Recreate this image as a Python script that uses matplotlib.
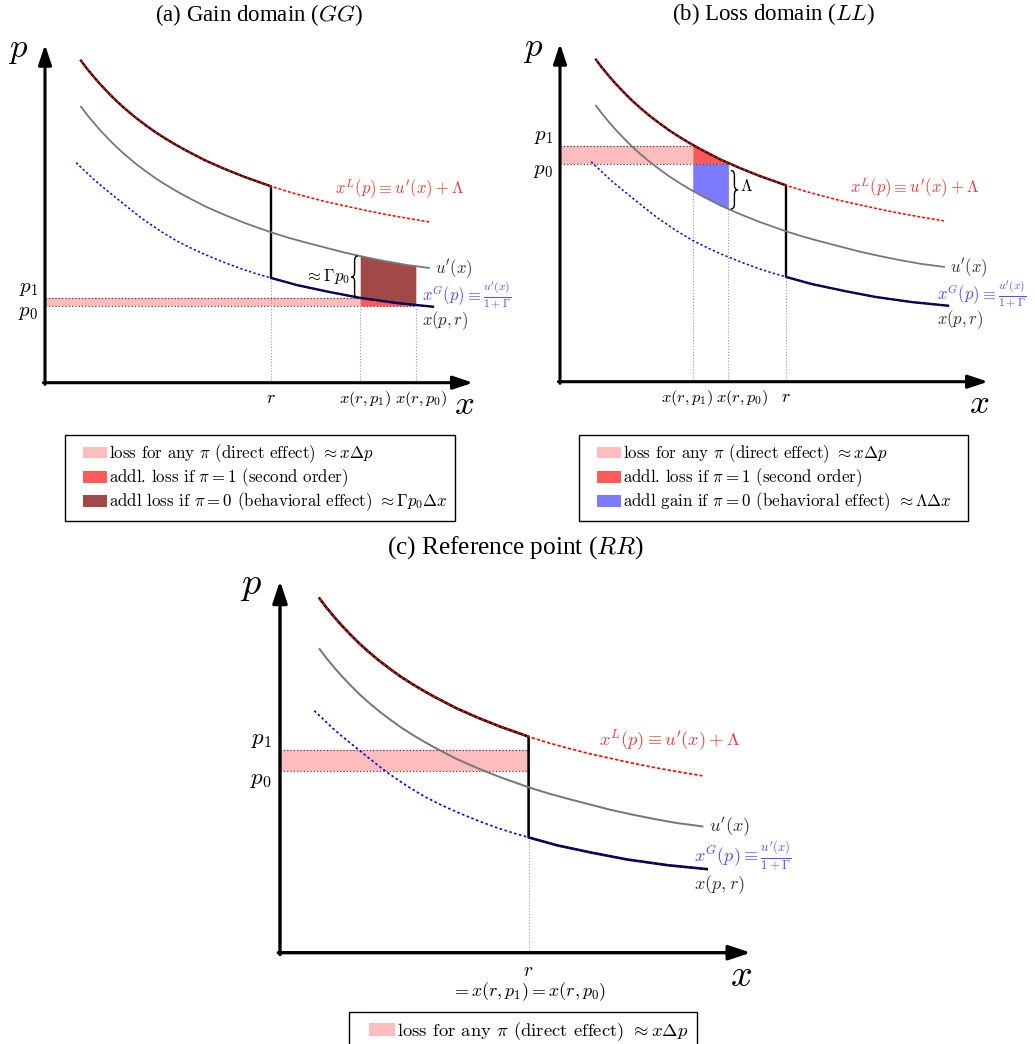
import numpy as np
import matplotlib
matplotlib.use("Agg")
import matplotlib.pyplot as plt
from matplotlib.patches import Patch, PathPatch, Rectangle
from matplotlib.path import Path
from matplotlib.legend_handler import HandlerPatch

plt.rcParams['mathtext.fontset'] = 'cm'

# curves (same shape in every panel)
x_top = np.array([0.9, 1.05, 1.25, 1.4, 1.6, 1.8, 2.0, 2.25, 2.5, 2.75, 3.0, 3.25, 3.5, 4.0,
                  4.5, 5.0, 5.65, 6.1, 6.5, 7.0, 7.5, 8.0, 8.5, 9.0, 9.6])
p_loss = np.array([8.05, 7.85, 7.61, 7.44, 7.23, 7.03, 6.85, 6.64, 6.45, 6.27, 6.11, 5.96, 5.82, 5.56,
                   5.34, 5.14, 4.91, 4.77, 4.66, 4.53, 4.42, 4.31, 4.21, 4.12, 4.02])
p_u = np.array([6.90, 6.70, 6.46, 6.29, 6.08, 5.88, 5.70, 5.49, 5.30, 5.12, 4.96, 4.81, 4.67, 4.41,
                4.19, 3.99, 3.76, 3.62, 3.51, 3.38, 3.25, 3.14, 3.04, 2.95, 2.87])
x_gain = np.array([0.78, 1.0, 1.2, 1.42, 1.63, 1.84, 2.05, 2.25, 2.46, 2.68, 2.9, 3.1, 3.3, 3.5,
                   3.7, 3.9, 4.13, 4.55, 4.96, 5.3, 5.65, 6.3, 7.1, 7.88, 8.8, 9.7])
p_gain = np.array([5.50, 5.29, 5.10, 4.91, 4.74, 4.57, 4.40, 4.24, 4.08, 3.93, 3.78, 3.66, 3.54, 3.44,
                   3.34, 3.25, 3.15, 2.98, 2.83, 2.72, 2.62, 2.44, 2.27, 2.12, 1.99, 1.90])

r = 5.65
titles = ["(a) Gain domain ($GG$)", "(b) Loss domain ($LL$)", "(c) Reference point ($RR$)"]
p1_vals = [2.12, 5.90, 4.60]
p0_vals = [1.92, 5.45, 4.14]
x_p1 = [7.88, 3.32, r]
x_p0 = [9.27, 4.21, r]

pink, red, brown, blue = '#ffbcbc', '#ff5a5a', '#a34848', '#7b7bff'
leg_labels = {
    'pink': r"loss for any $\pi$ (direct effect) $\approx x\Delta p$",
    'red': r"addl. loss if $\pi=1$ (second order)",
    'brown': r"addl loss if $\pi=0$ (behavioral effect) $\approx \Gamma p_0\Delta x$",
    'blue': r"addl gain if $\pi=0$ (behavioral effect) $\approx \Lambda\Delta x$",
}

W, H = 1035, 1044
fig = plt.figure(figsize=(W / 100, H / 100), dpi=100)
X0, X1, Y0, Y1 = -1.0, 11.6, -1.0, 8.9


def make_ax(ox, oy, ppu):
    ax = fig.add_axes([(ox + X0 * ppu) / W, (H - oy + Y0 * ppu) / H,
                       (X1 - X0) * ppu / W, (Y1 - Y0) * ppu / H])
    ax.set_xlim(X0, X1); ax.set_ylim(Y0, Y1); ax.axis('off')
    return ax


def brace(ax, x, y0, y1, w, lw=1.0):
    ym = (y0 + y1) / 2; d = 0.12; h = w / 2
    verts = [(x, y1), (x + h, y1), (x + h, y1 - d), (x + h, ym + d), (x + h, ym), (x + w, ym),
             (x + h, ym), (x + h, ym - d), (x + h, y0 + d), (x + h, y0), (x, y0)]
    codes = [Path.MOVETO, Path.CURVE3, Path.CURVE3, Path.LINETO, Path.CURVE3, Path.CURVE3,
             Path.CURVE3, Path.CURVE3, Path.LINETO, Path.CURVE3, Path.CURVE3]
    ax.add_patch(PathPatch(Path(verts, codes), fc='none', ec='k', lw=lw, zorder=5))


def draw(ax, i, s):
    p1, p0, xa, xb = p1_vals[i], p0_vals[i], x_p1[i], x_p0[i]
    # shaded areas
    ax.fill_between([0, xa], p0, p1, color=pink, lw=0, zorder=1)
    xx = np.linspace(xa, xb, 60)
    if i == 0:
        low = np.interp(xx, x_gain, p_gain); top = np.interp(xx, x_top, p_u)
        ax.fill_between(xx, p0, low, color=red, lw=0, zorder=1)
        ax.fill_between(xx, low, top, color=brown, lw=0, zorder=1)
    elif i == 1:
        up = np.interp(xx, x_top, p_loss); g = np.interp(xx, x_top, p_u)
        ax.fill_between(xx, p0, up, color=red, lw=0, zorder=1)
        ax.fill_between(xx, g, p0, color=blue, lw=0, zorder=1)
    # guides
    ax.plot([0, xa], [p1, p1], ':', color='#444444', lw=0.9, zorder=2)
    ax.plot([0, xb], [p0, p0], ':', color='#444444', lw=0.9, zorder=2)
    ax.plot([r, r], [0, np.interp(r, x_gain, p_gain)], ':', color='#999999', lw=0.8, zorder=2)
    if i < 2:
        ax.plot([xa, xa], [0, p1], ':', color='#999999', lw=0.8, zorder=2)
        ax.plot([xb, xb], [0, p0], ':', color='#999999', lw=0.8, zorder=2)
    # curves
    up_m = x_top <= r; lo_m = x_gain >= r
    ax.plot(np.r_[x_top[up_m], x_gain[lo_m]], np.r_[p_loss[up_m], p_gain[lo_m]],
            color='k', lw=1.7 * s, zorder=3)
    ax.plot(x_top, p_u, color='#777777', lw=1.3 * s, zorder=3)
    ax.plot(x_top, p_loss, color='r', lw=1.1 * s, ls=(0, (2, 1.2)), zorder=4)
    ax.plot(x_gain, p_gain, color='b', lw=1.1 * s, ls=(0, (1.5, 1.5)), zorder=4)
    # axes arrows
    arr = dict(arrowstyle='-|>,head_length=0.6,head_width=0.2', lw=2.2 * s, color='k',
               shrinkA=0, shrinkB=0, mutation_scale=20 * s)
    ax.annotate('', xy=(0, 8.45), xytext=(0, -0.04), arrowprops=arr, zorder=6)
    ax.annotate('', xy=(10.7, 0), xytext=(-0.04, 0), arrowprops=arr, zorder=6)
    ax.text(-0.66, 8.35, '$p$', fontsize=25 * s, ha='center', va='center')
    ax.text(10.47, -0.53, '$x$', fontsize=25 * s, ha='center', va='center')
    ax.text(5.35, 9.2, titles[i], fontsize=16.5 * s, family='Liberation Serif', ha='center', va='center')
    ax.text(-0.18, p1, '$p_1$', fontsize=15 * s, ha='right', va='bottom')
    ax.text(-0.18, p0 + 0.09, '$p_0$', fontsize=15 * s, ha='right', va='top')
    # curve labels
    fs = 12 * s
    ax.text(7.25, 4.83, r"$x^L(p)\equiv u'(x)+\Lambda$", color='#f03c3c', fontsize=fs, va='center')
    ax.text(9.75, 2.85, r"$u'(x)$", color='#333333', fontsize=fs, va='center')
    ax.text(9.42, 2.2, r"$x^G(p)\equiv \frac{u'(x)}{1+\Gamma}$", color='#5050ff', fontsize=fs, va='center')
    ax.text(9.42, 1.55, r"$x(p,r)$", color='#333333', fontsize=fs, va='center')
    # x-axis labels
    tk = 11.8 * s
    if i == 0:
        ax.text(r, -0.15, '$r$', fontsize=tk + 1, ha='center', va='top')
        ax.text(xa + 0.12, -0.15, '$x(r,p_1)$', fontsize=tk, ha='center', va='top')
        ax.text(xb + 0.14, -0.15, '$x(r,p_0)$', fontsize=tk, ha='center', va='top')
        y1 = np.interp(xa, x_top, p_u)
        brace(ax, xa - 0.06, p1, y1, -0.16)
        ax.text(xa - 0.26, (p1 + y1) / 2, r'$\approx\Gamma p_0$', fontsize=fs, ha='right', va='center')
    elif i == 1:
        ax.text(r, -0.15, '$r$', fontsize=tk + 1, ha='center', va='top')
        ax.text(xa - 0.15, -0.15, '$x(r,p_1)$', fontsize=tk, ha='center', va='top')
        ax.text(xb + 0.34, -0.15, '$x(r,p_0)$', fontsize=tk, ha='center', va='top')
        y0 = np.interp(xb, x_top, p_u)
        brace(ax, xb + 0.06, y0, p0 - 0.17, 0.18)
        ax.text(xb + 0.3, (y0 + p0) / 2, r'$\Lambda$', fontsize=fs, ha='left', va='center')
    else:
        ax.text(r, -0.2, '$r$', fontsize=tk + 1, ha='center', va='top')
        ax.text(r, -0.62, '$=x(r,p_1)=x(r,p_0)$', fontsize=tk, ha='center', va='top')


def indented_patch(legend, orig_handle, xdescent, ydescent, width, height, fontsize):
    # colour swatch sits in the right part of the handle box, leaving a left margin
    return Rectangle((-xdescent + 0.32 * width, -ydescent), 0.68 * width, height)


def legend(ax, keys, x, y, w, s):
    cols = {'pink': pink, 'red': red, 'brown': brown, 'blue': blue}
    hs = [Patch(facecolor=cols[k], edgecolor='none', label=leg_labels[k]) for k in keys]
    leg = ax.legend(handles=hs, loc='upper left', bbox_to_anchor=(x / W, 1 - y / H, w / W, 0),
                    bbox_transform=fig.transFigure, prop={'family': 'cmr10', 'size': 12.2 * s},
                    mode='expand', frameon=True, fancybox=False, edgecolor='k', framealpha=1,
                    handlelength=2.0, handleheight=0.7, handletextpad=0.15,
                    labelspacing=0.08, borderpad=0.45, borderaxespad=0,
                    handler_map={Patch: HandlerPatch(patch_func=indented_patch)})
    leg.get_frame().set_linewidth(1.0)


ax_a = make_ax(45, 382.7, 40)
draw(ax_a, 0, 1.0)
legend(ax_a, ['pink', 'red', 'brown'], 65, 435, 390, 1.0)

ax_b = make_ax(560, 381.7, 40)
draw(ax_b, 1, 1.0)
legend(ax_b, ['pink', 'red', 'blue'], 579, 435, 389, 1.0)

ax_c = make_ax(280, 952.7, 44)
draw(ax_c, 2, 1.1)
legend(ax_c, ['pink'], 349, 1012, 348, 1.1)

fig.savefig('out.png', dpi=100)
